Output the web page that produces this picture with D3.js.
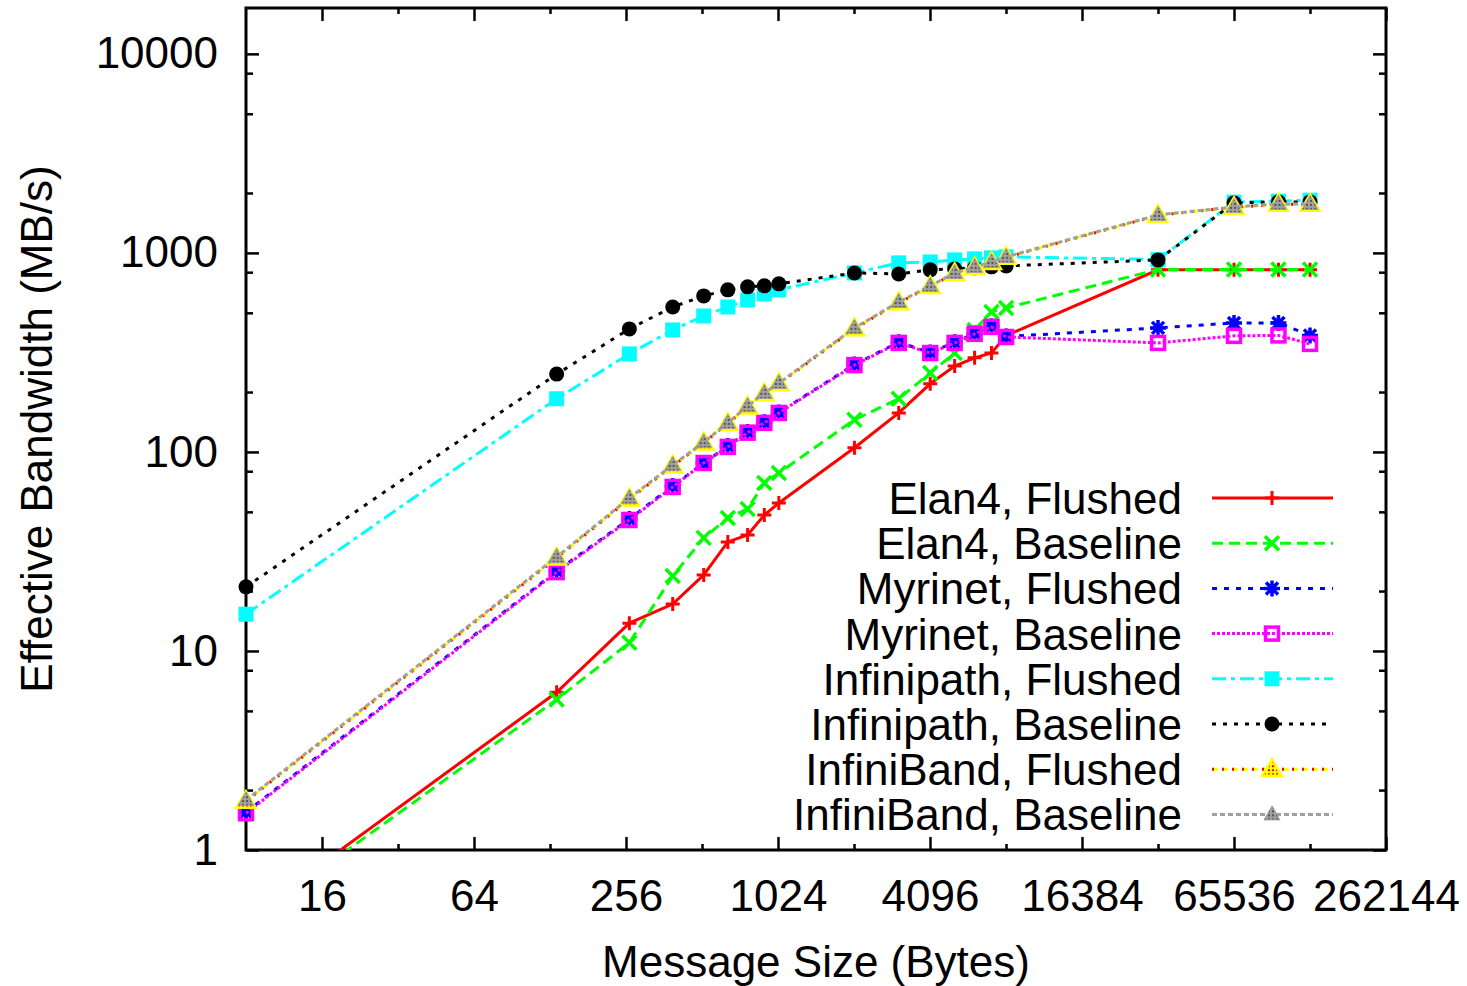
<!DOCTYPE html>
<html>
<head>
<meta charset="utf-8">
<script src="https://cdn.jsdelivr.net/npm/d3@7"></script>
<style>
body { margin: 0; background: #fff; }
svg text { font-family: "Liberation Sans", Arial, Helvetica, sans-serif; fill: #000; }
</style>
</head>
<body>
<div id="chart-area"></div>
<script>
// message sizes (bytes) and bandwidth (MB/s)
var sizes = [8, 136, 264, 392, 520, 648, 776, 904, 1032, 2056, 3080, 4104, 5128, 6152, 7176, 8200, 32776, 65544, 98312, 131080];

var elan4Flushed       = [0.45, 6.2, 13.8, 17.2, 24.1, 35.3, 38.3, 48.2, 55.4, 105, 157, 220, 270, 297, 314, 384, 822, 822, 822, 822];
var elan4Baseline      = [0.43, 5.7, 11.0, 23.8, 37.0, 46.6, 51.7, 69.9, 78.4, 145, 185, 249, 314, 410, 505, 529, 825, 825, 825, 825];
var myrinetFlushed     = [1.55, 25.2, 46.0, 67.5, 88, 107, 126, 141, 158, 275, 356, 316, 356, 394, 428, 380, 420, 445, 445, 385];
var myrinetBaseline    = [1.53, 24.9, 45.5, 66.7, 88, 106, 125, 140, 157, 273, 353, 314, 353, 392, 425, 378, 353, 383, 385, 349];
var infinipathFlushed  = [15.3, 185, 311, 410, 482, 535, 580, 622, 652, 793, 891, 901, 922, 933, 944, 955, 925, 1800, 1820, 1840];
var infinipathBaseline = [21.0, 246, 415, 535, 608, 652, 675, 683, 699, 793, 784, 822, 831, 841, 851, 860, 922, 1783, 1804, 1804];
var infinibandFlushed  = [1.76, 29.3, 58.0, 85, 111, 139, 168, 196, 220, 416, 562, 678, 788, 845, 896, 950, 1545, 1695, 1755, 1755];
var infinibandBaseline = [1.78, 29.7, 58.7, 86, 112, 140, 170, 198, 222, 420, 567, 683, 793, 851, 901, 955, 1552, 1702, 1763, 1763];

var seriesNames = ["Elan4, Flushed", "Elan4, Baseline", "Myrinet, Flushed", "Myrinet, Baseline",
                   "Infinipath, Flushed", "Infinipath, Baseline", "InfiniBand, Flushed", "InfiniBand, Baseline"];

var xTicks = [16, 64, 256, 1024, 4096, 16384, 65536, 262144];
var xMinor = [32, 128, 512, 2048, 8192, 32768, 131072];
var yTicks = [1, 10, 100, 1000, 10000];
var yMinor = [2, 5, 8, 20, 50, 80, 200, 500, 800, 2000, 5000, 8000];

var margin = { left: 246, right: 81, top: 8, bottom: 136 };
var width = 1467 - margin.left - margin.right,
    height = 986 - margin.top - margin.bottom;

var svg = d3.select("#chart-area")
    .append("svg")
        .attr("width", 1467)
        .attr("height", 986);

var defs = svg.append("defs");
defs.append("clipPath").attr("id", "plot-clip")
    .append("rect").attr("width", width).attr("height", height);

var p1 = defs.append("pattern").attr("id", "yellow-red")
    .attr("width", 4).attr("height", 4).attr("patternUnits", "userSpaceOnUse");
p1.append("rect").attr("width", 4).attr("height", 4).attr("fill", "#ffff00");
p1.append("rect").attr("width", 2).attr("height", 2).attr("fill", "#ff0000");

var p2 = defs.append("pattern").attr("id", "gray-check")
    .attr("width", 4).attr("height", 4).attr("patternUnits", "userSpaceOnUse");
p2.append("rect").attr("width", 4).attr("height", 4).attr("fill", "#a0a0a0");
p2.append("rect").attr("width", 2).attr("height", 2).attr("fill", "#555555");

var g = svg.append("g")
    .attr("transform", "translate(" + margin.left + "," + margin.top + ")");

var x = d3.scaleLog()
    .base(2)
    .domain([8, 262144])
    .range([0, width]);

var y = d3.scaleLog()
    .domain([1, 17000])
    .range([height, 0]);

// frame
g.append("rect")
    .attr("width", width)
    .attr("height", height)
    .attr("fill", "none")
    .attr("stroke", "#000")
    .attr("stroke-width", 3);

function addAxis(axis, transform) {
    var a = g.append("g").attr("transform", transform || null).call(axis);
    a.select(".domain").remove();
    a.selectAll(".tick line").attr("stroke", "#000").attr("stroke-width", 2.5);
    a.selectAll("text").attr("font-size", 44).style("fill", "#000");
    return a;
}

// X axis (ticks point inwards, mirrored on top)
addAxis(d3.axisBottom(x).tickValues(xTicks).tickFormat(d3.format("d")).tickSize(-13).tickPadding(30),
    "translate(0," + height + ")");
addAxis(d3.axisBottom(x).tickValues(xMinor).tickFormat("").tickSize(-6), "translate(0," + height + ")");
addAxis(d3.axisTop(x).tickValues(xTicks).tickFormat("").tickSize(-13));
addAxis(d3.axisTop(x).tickValues(xMinor).tickFormat("").tickSize(-6));

// Y axis
addAxis(d3.axisLeft(y).tickValues(yTicks).tickFormat(d3.format("d")).tickSize(-13).tickPadding(28));
addAxis(d3.axisLeft(y).tickValues(yMinor).tickFormat("").tickSize(-7));
addAxis(d3.axisRight(y).tickValues(yTicks).tickFormat("").tickSize(-13), "translate(" + width + ",0)");
addAxis(d3.axisRight(y).tickValues(yMinor).tickFormat("").tickSize(-7), "translate(" + width + ",0)");

// Labels
svg.append("text")
    .attr("x", margin.left + width / 2)
    .attr("y", 977)
    .attr("font-size", 44)
    .attr("text-anchor", "middle")
    .text("Message Size (Bytes)");
svg.append("text")
    .attr("transform", "translate(52," + (margin.top + height / 2) + ") rotate(-90)")
    .attr("font-size", 44)
    .attr("text-anchor", "middle")
    .text("Effective Bandwidth (MB/s)");

// series styles
var series = [
    { name: seriesNames[0], values: elan4Flushed,       color: "#ff0000", strokes: [{ c: "#ff0000", dash: null }],                       marker: "plus" },
    { name: seriesNames[1], values: elan4Baseline,      color: "#00ff00", strokes: [{ c: "#00ff00", dash: "11,6" }],                     marker: "cross" },
    { name: seriesNames[2], values: myrinetFlushed,     color: "#0000ff", strokes: [{ c: "#0000ff", dash: "5,7" }],                      marker: "star" },
    { name: seriesNames[3], values: myrinetBaseline,    color: "#ff00ff", strokes: [{ c: "#ff00ff", dash: "3,2" }],                      marker: "openSquare" },
    { name: seriesNames[4], values: infinipathFlushed,  color: "#00ffff", strokes: [{ c: "#00ffff", dash: "14,5,4,5" }],                 marker: "square" },
    { name: seriesNames[5], values: infinipathBaseline, color: "#000000", strokes: [{ c: "#000000", dash: "4,7" }],                      marker: "circle" },
    { name: seriesNames[6], values: infinibandFlushed,  color: "#ffff00", strokes: [{ c: "#ffff00", dash: "6,4" }, { c: "#ff0000", dash: "2,8" }], marker: "triYellow" },
    { name: seriesNames[7], values: infinibandBaseline, color: "#a0a0a0", strokes: [{ c: "#a0a0a0", dash: "5,3" }],                      marker: "triGray" }
];

function drawMarker(sel, type, color) {
    switch (type) {
        case "plus":
            sel.append("path").attr("d", "M-7,0H7M0,-7V7").attr("stroke", color).attr("stroke-width", 3);
            break;
        case "cross":
            sel.append("path").attr("d", "M-7,-7L7,7M-7,7L7,-7").attr("stroke", color).attr("stroke-width", 3.5);
            break;
        case "star":
            sel.append("path").attr("d", "M-8,0H8M0,-8V8M-6,-6L6,6M-6,6L6,-6").attr("stroke", color).attr("stroke-width", 3.5);
            break;
        case "openSquare":
            sel.append("rect").attr("x", -6.5).attr("y", -6.5).attr("width", 13).attr("height", 13)
                .attr("fill", "none").attr("stroke", color).attr("stroke-width", 3.5);
            break;
        case "square":
            sel.append("rect").attr("x", -7.5).attr("y", -7.5).attr("width", 15).attr("height", 15).attr("fill", color);
            break;
        case "circle":
            sel.append("circle").attr("r", 7.5).attr("fill", color);
            break;
        case "triYellow":
            sel.append("path").attr("d", "M0,-10L9.5,6.5L-9.5,6.5Z")
                .attr("fill", "url(#yellow-red)").attr("stroke", "#ffff00").attr("stroke-width", 2.5);
            break;
        case "triGray":
            sel.append("path").attr("d", "M0,-8.5L8,5.5L-8,5.5Z")
                .attr("fill", "url(#gray-check)").attr("stroke", "#a0a0a0").attr("stroke-width", 1);
            break;
    }
}

var line = d3.line()
    .x(function(d) { return x(d.size); })
    .y(function(d) { return y(d.value); });

var yMin = y.domain()[0], yMax = y.domain()[1];

series.forEach(function(s) {
    var pts = sizes.map(function(size, i) { return { size: size, value: s.values[i] }; });
    var sg = g.append("g");
    s.strokes.forEach(function(st) {
        sg.append("path")
            .datum(pts)
            .attr("clip-path", "url(#plot-clip)")
            .attr("fill", "none")
            .attr("stroke", st.c)
            .attr("stroke-width", 3)
            .attr("stroke-dasharray", st.dash)
            .attr("d", line);
    });
    sg.selectAll(".pt")
        .data(pts.filter(function(d) { return d.value >= yMin && d.value <= yMax; }))
        .enter().append("g")
            .attr("class", "pt")
            .attr("transform", function(d) { return "translate(" + x(d.size) + "," + y(d.value) + ")"; })
            .each(function() { drawMarker(d3.select(this), s.marker, s.color); });
});

// Legend
var legend = svg.append("g").attr("transform", "translate(0,498)");
series.forEach(function(s, i) {
    var row = legend.append("g").attr("transform", "translate(0," + (i * 45.2) + ")");
    row.append("text")
        .attr("x", 1182)
        .attr("y", 16)
        .attr("font-size", 44)
        .attr("text-anchor", "end")
        .text(s.name);
    s.strokes.forEach(function(st) {
        row.append("line")
            .attr("x1", 1212).attr("x2", 1333)
            .attr("stroke", st.c)
            .attr("stroke-width", 3)
            .attr("stroke-dasharray", st.dash);
    });
    drawMarker(row.append("g").attr("transform", "translate(1272,0)"), s.marker, s.color);
});
</script>
</body>
</html>
